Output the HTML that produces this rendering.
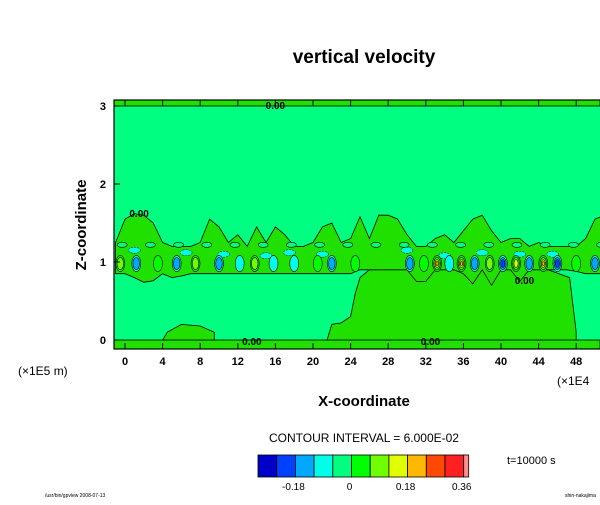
<!DOCTYPE html>
<html><head><meta charset="utf-8"><style>
body{margin:0;background:#fff;font-family:"Liberation Sans",sans-serif}
svg text{font-family:"Liberation Sans",sans-serif}
</style></head><body>
<svg id="chart" width="600" height="500" viewBox="0 0 600 500">
<rect width="600" height="500" fill="#fff"/>
<text x="364" y="63" font-size="19" font-weight="bold" text-anchor="middle">vertical velocity</text>
<g id="plot"></g>
<text transform="translate(86,225) rotate(-90)" font-size="15" font-weight="bold" text-anchor="middle">Z-coordinate</text>
<text x="364" y="406" font-size="15" font-weight="bold" text-anchor="middle">X-coordinate</text>
<text x="18" y="375" font-size="12">(×1E5 m)</text>
<text x="557" y="385" font-size="12">(×1E4</text>
<text x="364" y="442" font-size="12" text-anchor="middle">CONTOUR INTERVAL = 6.000E-02</text>
<g id="cbar"></g>
<text x="507" y="464" font-size="11">t=10000 s</text>
<text x="45" y="497" font-size="5">/usr/bin/gpview 2008-07-13</text>
<text x="565" y="497" font-size="5">shin-nakajima</text>
</svg>
<script>
const levelColors=['#0000c8','#0040ff','#00a8ff','#00ffe8','#00ff80','#00ff00','#70ff00','#e0ff00','#ffb800','#ff4800','#ff2020','#ff9090'];
const cbarLabels=['-0.18','0','0.18','0.36'];
const cbarLabelIdx=[2,5,8,11];
const xTicks=[0,4,8,12,16,20,24,28,32,36,40,44,48];
const yTicks=[0,1,2,3];
const bandX=[-1,0,1,2,3,4,5,6,7,8,9,10,11,12,13,14,15,16,17,18,19,20,21,22,23,24,25,26,27,28,29,30,31,32,33,34,35,36,37,38,39,40,41,42,43,44,45,46,47,48,49,50,51,52];
const bandTop=[1.25,1.55,1.62,1.6,1.5,1.25,1.2,1.2,1.2,1.25,1.55,1.45,1.25,1.35,1.2,1.45,1.25,1.45,1.35,1.2,1.2,1.25,1.45,1.5,1.25,1.3,1.58,1.3,1.6,1.6,1.55,1.35,1.2,1.2,1.3,1.35,1.25,1.4,1.55,1.6,1.4,1.25,1.3,1.3,1.2,1.25,1.2,1.2,1.2,1.2,1.3,1.55,1.6,1.6];
const bandBot=[0.85,0.85,0.8,0.74,0.76,0.85,0.8,0.82,0.85,0.85,0.85,0.85,0.85,0.85,0.85,0.85,0.85,0.85,0.85,0.85,0.85,0.85,0.85,0.85,0.85,0.85,0.9,0.9,0.9,0.9,0.9,0.9,0.75,0.75,0.9,0.9,0.9,0.85,0.72,0.9,0.7,0.9,0.9,0.75,0.9,0.9,0.9,0.9,0.9,0.88,0.85,0.85,0.85,0.85];
const lowX=[21.5,22,23,24,24.5,25,26,30,35,40,45,47.3,47.8,48,48];
const lowZ=[0,0.2,0.22,0.3,0.6,0.8,0.9,0.92,0.9,0.92,0.9,0.8,0.3,0.1,0];
const blobX=[4,4.5,6,8,9.5,9.5];
const blobZ=[0,0.1,0.2,0.18,0.1,0];
const cellX=[-0.5,1.2,3.5,5.5,7.5,10,12.2,13.8,15.8,18,20.5,22,24.5,30.3,31.8,33.2,34.5,35.8,37.2,38.8,40.2,41.6,43,44.5,46,48,50,51.5];
const cellV=[0.12,-0.12,0.06,-0.12,0.12,-0.12,-0.06,0.12,-0.06,-0.06,0.06,-0.12,0.06,-0.12,0.06,0.24,-0.06,0.24,-0.12,0.12,-0.18,0.18,-0.12,0.24,-0.18,0.06,-0.12,0.12];
// negative cyan patches above the cell row: x, z
const patchX=[1,6.5,10.5,15,17.5,21,30,34,38,42,45.5];
const patchZ=[1.15,1.12,1.1,1.08,1.12,1.1,1.15,1.08,1.12,1.1,1.1];
const NS='http://www.w3.org/2000/svg';
const X0=125,SX=9.4,Z0=340,SZ=78;
function xp(x){return X0+x*SX;}
function zp(z){return Z0-z*SZ;}
function mk(tag,attrs,parent){const e=document.createElementNS(NS,tag);for(const k in attrs)e.setAttribute(k,attrs[k]);parent.appendChild(e);return e;}
const plot=document.getElementById('plot');
const cp=mk('clipPath',{id:'pc'},plot);mk('rect',{x:114,y:100,width:486,height:249},cp);
const g=mk('g',{'clip-path':'url(#pc)'},plot);
let r=mk('rect',{x:114,y:100,width:486,height:249,fill:'#00ff80'},g);


r=mk('rect',{x:114,y:100,width:486,height:6,fill:'#20e000',stroke:'#000','stroke-width':0.8},g);


r=mk('rect',{x:114,y:340,width:486,height:9,fill:'#20e000',stroke:'#000','stroke-width':0.8},g);


function poly(xs,zs){return xs.map((x,i)=>xp(x)+','+zp(zs[i])).join(' ');}
let p=mk('polygon',{points:poly(lowX,lowZ),fill:'#20e000',stroke:'#000','stroke-width':0.8},g);


p=mk('polygon',{points:poly(blobX,blobZ),fill:'#20e000',stroke:'#000','stroke-width':0.8},g);


const bx=bandX.concat(bandX.slice().reverse()),bz=bandTop.concat(bandBot.slice().reverse());
p=mk('polygon',{points:poly(bx,bz),fill:'#20e000',stroke:'#000','stroke-width':0.8},g);


for(let i=0;i<bandX.length;i+=3){
  const e=mk('ellipse',{cx:xp(bandX[i]+0.7),cy:zp(1.22),rx:5,ry:2.5,fill:'#00ff80',stroke:'#000','stroke-width':0.6},g);
  
  
}
patchX.forEach((x,i)=>{
  const e=mk('ellipse',{cx:xp(x),cy:zp(patchZ[i]),rx:6,ry:3,fill:'#00ffe8',stroke:'#000','stroke-width':0.5,'stroke-dasharray':'2 1'},g);
  
  
});
cellX.forEach((x,i)=>{
  const v=cellV[i];const n=Math.round(Math.abs(v)/0.06);const sgn=v>0?1:-1;
  for(let k=1;k<=n;k++){
    const idx=sgn>0?4+k:4-k;
    const e=mk('ellipse',{cx:xp(x),cy:zp(0.98),rx:Math.max(1.2,4.5-(k-1)*1.2),ry:Math.max(1.5,8-(k-1)*2),fill:levelColors[idx],stroke:'#000','stroke-width':0.6},g);
    
    
  }
});
[[xp(16),105],[xp(1.5),213],[xp(13.5),341],[xp(32.5),341],[xp(42.5),280]].forEach(a=>{
  const t=mk('text',{x:a[0],y:a[1]+4,'font-size':10,'font-weight':'bold','text-anchor':'middle'},g);
  t.textContent='0.00';
  
  
});
mk('rect',{x:114,y:100,width:490,height:249,fill:'none',stroke:'#000','stroke-width':1.2},plot);
xTicks.forEach(x=>{
  mk('line',{x1:xp(x),x2:xp(x),y1:100,y2:106,stroke:'#000'},plot);
  mk('line',{x1:xp(x),x2:xp(x),y1:343,y2:349,stroke:'#000'},plot);
  const t=mk('text',{x:xp(x),y:365,'font-size':11,'font-weight':'bold','text-anchor':'middle'},plot);
  t.textContent=x;
  
  
});
yTicks.forEach(z=>{
  mk('line',{x1:114,x2:120,y1:zp(z),y2:zp(z),stroke:'#000'},plot);
  const t=mk('text',{x:106,y:zp(z)+4,'font-size':11,'font-weight':'bold','text-anchor':'end'},plot);
  t.textContent=z;
  
  
});
const cb=document.getElementById('cbar');
const CB0=258,CW=18.7;
levelColors.forEach((c,i)=>{
  const w=i==11?5:CW;
  const rr=mk('rect',{x:CB0+i*CW,y:455,width:w,height:22,fill:c,stroke:'#000','stroke-width':0.8},cb);
  
  
});
cbarLabels.forEach((l,i)=>{
  const t=mk('text',{x:CB0+cbarLabelIdx[i]*CW-2,y:490,'font-size':10,'text-anchor':'middle'},cb);
  t.textContent=l;
  
  
});
</script>
</body></html>
